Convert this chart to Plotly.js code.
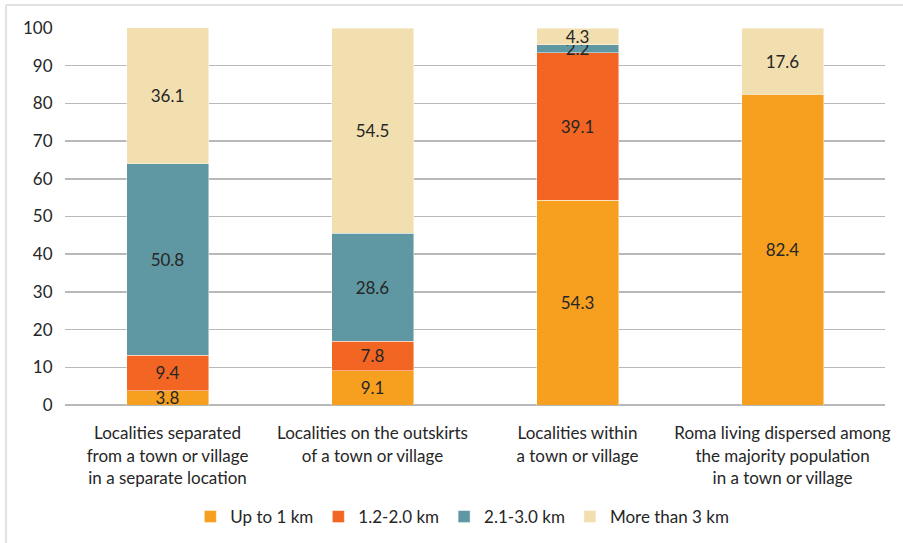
<!DOCTYPE html>
<html>
<head>
<meta charset="utf-8">
<script src="https://cdn.plot.ly/plotly-3.0.1.min.js"></script>
<style>html,body{margin:0;padding:0;background:#fff;}#chart{width:903px;height:543px;}</style>
</head>
<body>
<div id="chart"></div>
<script>
const categories = [
  "Localities separated<br>from a town or village<br>in a separate location",
  "Localities on the outskirts<br>of a town or village",
  "Localities within<br>a town or village",
  "Roma living dispersed among<br>the majority population<br>in a town or village"
];
const seriesNames = ["Up to 1 km", "1.2-2.0 km", "2.1-3.0 km", "More than 3 km"];
const upTo1 = [3.8, 9.1, 54.3, 82.4];
const km12to20 = [9.4, 7.8, 39.1, null];
const km21to30 = [50.8, 28.6, 2.2, null];
const moreThan3 = [36.1, 54.5, 4.3, 17.6];
const yTicks = [0, 10, 20, 30, 40, 50, 60, 70, 80, 90, 100];

const colors = ["#F7A01F", "#F26522", "#5F97A2", "#F2DFB0"];
const FONT = "Lato, sans-serif";
const FS = 17;
const seriesValues = [upTo1, km12to20, km21to30, moreThan3];

const traces = seriesValues.map((vals, i) => ({
  type: "bar",
  name: seriesNames[i],
  x: categories,
  y: vals,
  text: vals.map(v => v == null ? "" : v.toFixed(1)),
  textposition: "inside",
  insidetextanchor: "middle",
  textangle: 0,
  constraintext: "none",
  textfont: {family: FONT, size: FS, color: "#262626"},
  marker: {color: colors[i], line: {color: "rgba(255,255,255,0.6)", width: 0.75}},
  hoverinfo: "skip"
}));

const layout = {
  width: 903,
  height: 543,
  barmode: "stack",
  bargap: 0.6,
  margin: {l: 65, r: 18, t: 28, b: 138},
  paper_bgcolor: "#fff",
  plot_bgcolor: "#fff",
  font: {family: FONT, size: FS, color: "#262626"},
  uniformtext: {mode: "show", minsize: FS},
  showlegend: true,
  legend: {
    orientation: "h",
    xref: "container", yref: "container",
    x: 0.512, xanchor: "center",
    y: 1 - 517/543, yanchor: "middle",
    font: {family: FONT, size: FS, color: "#262626"},
    itemwidth: 30,
    traceorder: "normal"
  },
  xaxis: {
    type: "category",
    showgrid: false,
    showline: false,
    zeroline: false,
    ticks: "outside",
    ticklen: 13,
    tickcolor: "rgba(0,0,0,0)",
    tickfont: {family: FONT, size: FS, color: "#262626"},
    fixedrange: true
  },
  yaxis: {
    range: [0, 100],
    tickvals: yTicks,
    ticktext: yTicks.map(String),
    showgrid: true,
    gridcolor: "#b8b8b8",
    gridwidth: 1.5,
    zeroline: true,
    zerolinecolor: "#b8b8b8",
    zerolinewidth: 1.5,
    showline: false,
    ticks: "outside",
    ticklen: 8,
    tickcolor: "rgba(0,0,0,0)",
    tickfont: {family: FONT, size: FS, color: "#262626"},
    fixedrange: true
  },
  shapes: [
    {type: "line", xref: "paper", yref: "paper", x0: -59/820, x1: 1.1, y0: (405-5)/377, y1: (405-5)/377, line: {color: "#d9d9d9", width: 1.5}},
    {type: "line", xref: "paper", yref: "paper", x0: -59/820, x1: -59/820, y0: (405-5)/377, y1: (405-545)/377, line: {color: "#d9d9d9", width: 1.5}}
  ]
};

Plotly.newPlot("chart", traces, layout, {displayModeBar: false, staticPlot: true});
</script>
</body>
</html>
